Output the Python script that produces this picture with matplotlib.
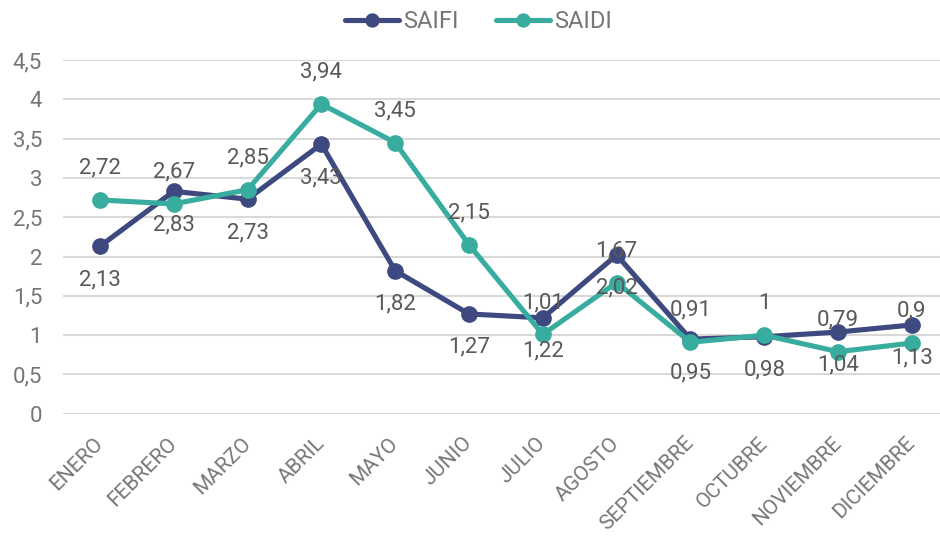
import matplotlib
matplotlib.use("Agg")
import matplotlib.pyplot as plt

meses = ["ENERO", "FEBRERO", "MARZO", "ABRIL", "MAYO", "JUNIO", "JULIO",
         "AGOSTO", "SEPTIEMBRE", "OCTUBRE", "NOVIEMBRE", "DICIEMBRE"]
saifi = [2.13, 2.83, 2.73, 3.43, 1.82, 1.27, 1.22, 2.02, 0.95, 0.98, 1.04, 1.13]
saidi = [2.72, 2.67, 2.85, 3.94, 3.45, 2.15, 1.01, 1.67, 0.91, 1.00, 0.79, 0.90]
yticks = [0, 0.5, 1, 1.5, 2, 2.5, 3, 3.5, 4, 4.5]

plt.rcParams['font.family'] = ['Roboto', 'DejaVu Sans']

c_saifi = '#3e4a7f'
c_saidi = '#38ad9f'

def fmt(v):
    s = ('%.2f' % v).rstrip('0').rstrip('.')
    return s.replace('.', ',')

fig = plt.figure(figsize=(9.4, 5.36), dpi=100)
ax = fig.add_axes([0.067, 0.228, 0.933, 0.66])

x = list(range(len(meses)))
ax.plot(x, saifi, color=c_saifi, lw=3.7, marker='o', ms=11, label='SAIFI',
        solid_capstyle='round', zorder=3)
ax.plot(x, saidi, color=c_saidi, lw=3.7, marker='o', ms=11, label='SAIDI',
        solid_capstyle='round', zorder=4)

# etiquetas: SAIDI arriba, SAIFI abajo
for i in x:
    ax.annotate(fmt(saidi[i]), (i, saidi[i]), textcoords='offset points',
                xytext=(0, 23), ha='center', va='center', fontsize=16,
                color='#595959', zorder=5)
    ax.annotate(fmt(saifi[i]), (i, saifi[i]), textcoords='offset points',
                xytext=(0, -24), ha='center', va='center', fontsize=16,
                color='#595959', zorder=5)

ax.set_xlim(-0.5, 11.38)
ax.set_ylim(0, 4.5)
ax.set_yticks(yticks)
ax.set_yticklabels([fmt(v) for v in yticks], fontsize=16, color='#767676')
ax.set_xticks(x)
ax.set_xticklabels(meses, rotation=45, ha='right', va='center',
                   rotation_mode='anchor', fontsize=15, color='#767676')
ax.tick_params(axis='x', length=0, pad=19)
ax.tick_params(axis='y', length=0, pad=15)
ax.yaxis.grid(True, color='#d9d9d9', lw=1.5)
ax.set_axisbelow(True)
for s in ax.spines.values():
    s.set_visible(False)

fig.legend(loc='upper center', bbox_to_anchor=(0.509, 1.003), ncol=2, frameon=False,
           fontsize=17, labelcolor='#767676', handlelength=2.3, markerscale=0.85,
           handletextpad=0.15, columnspacing=1.6, borderaxespad=0.1)

fig.savefig('out.png', dpi=100)
